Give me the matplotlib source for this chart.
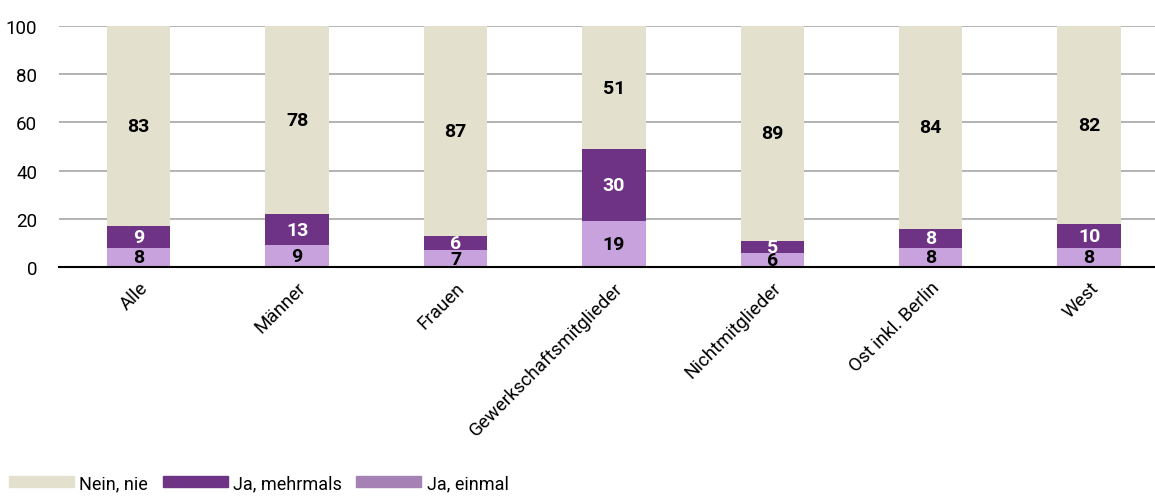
import matplotlib.pyplot as plt
from matplotlib.patches import Patch

plt.rcParams['font.family'] = ['Roboto', 'DejaVu Sans']

categories = ['Alle', 'Männer', 'Frauen', 'Gewerkschaftsmitglieder',
              'Nichtmitglieder', 'Ost inkl. Berlin', 'West']
einmal = [8, 9, 7, 19, 6, 8, 8]
mehrmals = [9, 13, 6, 30, 5, 8, 10]
nie = [83, 78, 87, 51, 89, 84, 82]

c_nie = '#e3e1cd'
c_mehr = '#6e3385'
c_ein = '#c8a2dc'
c_ein_leg = '#a581b6'

fig = plt.figure(figsize=(11.55, 5.02), dpi=100)
ax = fig.add_axes([0.0515, 0.466, 0.960, 0.480])

x = range(len(categories))
w = 0.4
b2 = [a + b for a, b in zip(einmal, mehrmals)]
ax.bar(x, einmal, w, color=c_ein, zorder=2)
ax.bar(x, mehrmals, w, bottom=einmal, color=c_mehr, zorder=2)
ax.bar(x, nie, w, bottom=b2, color=c_nie, zorder=2)

for i in x:
    ax.text(i, einmal[i] / 2, str(einmal[i]), ha='center', va='center',
            fontsize=14, fontweight='bold', color='black', zorder=3)
    ax.text(i, einmal[i] + mehrmals[i] / 2, str(mehrmals[i]), ha='center', va='center',
            fontsize=14, fontweight='bold', color='white', zorder=3)
    ax.text(i, b2[i] + nie[i] / 2, str(nie[i]), ha='center', va='center',
            fontsize=14, fontweight='bold', color='black', zorder=3)

ax.set_xlim(-0.5, 6.5)
ax.set_ylim(0, 100)
ax.set_yticks([0, 20, 40, 60, 80, 100])
ax.yaxis.grid(True, color='#a6a6a6', linewidth=1.2, zorder=0)
ax.set_axisbelow(True)
for s in ['top', 'right', 'left']:
    ax.spines[s].set_visible(False)
ax.spines['bottom'].set_color('black')
ax.spines['bottom'].set_linewidth(1.5)
ax.tick_params(axis='both', length=0, labelsize=13.5)
ax.tick_params(axis='y', pad=16)
ax.set_xticks(list(x))
ax.set_xticklabels(categories, rotation=45, ha='right', rotation_mode='anchor')
ax.tick_params(axis='x', pad=8)

handles = [Patch(color=c_nie, label='Nein, nie'),
           Patch(color=c_mehr, label='Ja, mehrmals'),
           Patch(color=c_ein_leg, label='Ja, einmal')]
fig.legend(handles=handles, loc='lower left', bbox_to_anchor=(0.0, 0.0), ncol=3,
           frameon=False, fontsize=13, handlelength=3.6, handleheight=0.6,
           handletextpad=0.3, columnspacing=0.8, borderaxespad=0.1)

fig.savefig('out.png', dpi=100)
